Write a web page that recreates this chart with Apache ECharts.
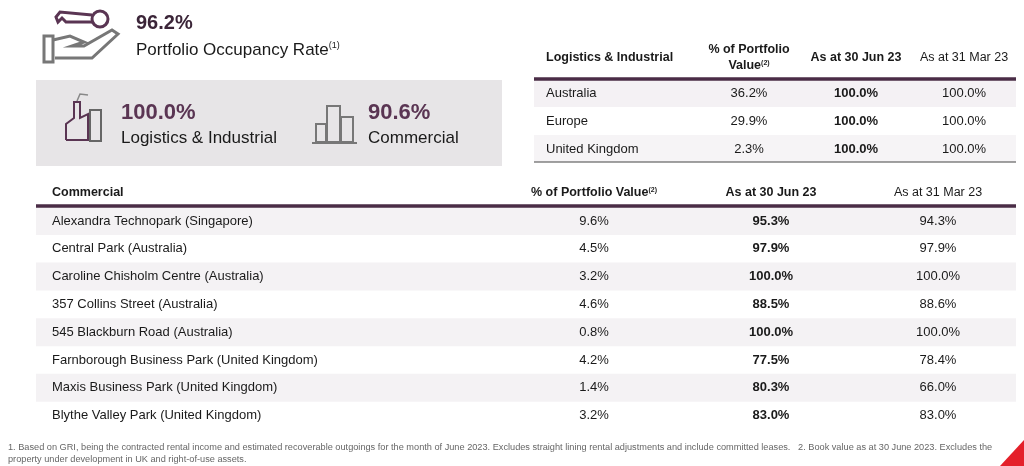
<!DOCTYPE html>
<html>
<head>
<meta charset="utf-8">
<script src="https://cdn.jsdelivr.net/npm/echarts@6/dist/echarts.min.js"></script>
<style>html,body{margin:0;padding:0;background:#fff}#main{width:1024px;height:466px}</style>
</head>
<body>
<div id="main"></div>
<script>
// summary figures
var totalRate = '96.2%';
var liRate = '100.0%';
var comRate = '90.6%';

// logistics & industrial table
var liNames = ['Australia', 'Europe', 'United Kingdom'];
var liPortfolio = ['36.2%', '29.9%', '2.3%'];
var liJun = ['100.0%', '100.0%', '100.0%'];
var liMar = ['100.0%', '100.0%', '100.0%'];

// commercial table
var comNames = ['Alexandra Technopark (Singapore)', 'Central Park (Australia)', 'Caroline Chisholm Centre (Australia)',
    '357 Collins Street (Australia)', '545 Blackburn Road (Australia)', 'Farnborough Business Park (United Kingdom)',
    'Maxis Business Park (United Kingdom)', 'Blythe Valley Park (United Kingdom)'];
var comPortfolio = ['9.6%', '4.5%', '3.2%', '4.6%', '0.8%', '4.2%', '1.4%', '3.2%'];
var comJun = ['95.3%', '97.9%', '100.0%', '88.5%', '100.0%', '77.5%', '80.3%', '83.0%'];
var comMar = ['94.3%', '97.9%', '100.0%', '88.6%', '100.0%', '78.4%', '66.0%', '83.0%'];

var footnote1 = '1. Based on GRI, being the contracted rental income and estimated recoverable outgoings for the month of June 2023. Excludes straight lining rental adjustments and include committed leases.   2. Book value as at 30 June 2023. Excludes the';
var footnote2 = 'property under development in UK and right-of-use assets.';

var purple = '#5a3553', dark = '#1a1a1a', font = 'Liberation Sans, Arial, sans-serif';
var sup = {sup: {fontSize: 9, verticalAlign: 'top', padding: [0, 0, 6, 0], fill: dark, fontFamily: font}};
var supB = {sup: {fontSize: 7, verticalAlign: 'top', fontWeight: 'bold', fontFamily: font}};
var els = [];

function txt(x, y, s, size, opt) {
    opt = opt || {};
    els.push({type: 'text', x: x, y: y, style: {
        text: s, fontSize: size, fontFamily: font, fill: opt.fill || dark,
        fontWeight: opt.bold ? 'bold' : 'normal', align: opt.align || 'left',
        verticalAlign: 'middle', rich: opt.rich
    }});
}
function rect(x, y, w, h, fill) {
    els.push({type: 'rect', shape: {x: x, y: y, width: w, height: h}, style: {fill: fill}});
}
function line(x1, y1, x2, y2, stroke, w) {
    els.push({type: 'line', shape: {x1: x1, y1: y1, x2: x2, y2: y2}, style: {stroke: stroke, lineWidth: w}});
}

// key in hand icon
els.push({type: 'circle', shape: {cx: 100, cy: 19, r: 8}, style: {fill: 'none', stroke: purple, lineWidth: 3}});
els.push({type: 'polyline', shape: {points: [[92, 22], [66, 22], [62, 18], [58, 22], [56, 17], [60, 12], [92, 15]]}, style: {fill: 'none', stroke: purple, lineWidth: 3}});
els.push({type: 'rect', shape: {x: 44, y: 36, width: 9, height: 26}, style: {fill: 'none', stroke: '#777', lineWidth: 3}});
els.push({type: 'polyline', shape: {points: [[53, 40], [70, 36], [84, 42], [72, 46], [84, 46], [112, 30], [118, 34], [92, 58], [55, 58]]},
    style: {fill: 'none', stroke: '#777', lineWidth: 3}});

txt(136, 23, totalRate, 20, {bold: true, fill: '#3b2538'});
txt(136, 50, 'Portfolio Occupancy Rate{sup|(1)}', 17, {rich: sup});

// summary box
rect(36, 80, 466, 86, '#e7e5e7');
// factory icon
els.push({type: 'polyline', shape: {points: [[66, 140], [66, 124], [74, 118], [74, 102], [80, 102], [80, 118], [88, 114], [88, 140], [66, 140]]}, style: {fill: 'none', stroke: purple, lineWidth: 2}});
els.push({type: 'rect', shape: {x: 90, y: 110, width: 11, height: 31}, style: {fill: 'none', stroke: '#666', lineWidth: 2}});
els.push({type: 'polyline', shape: {points: [[77, 101], [80, 94], [88, 95]]}, style: {fill: 'none', stroke: '#888', lineWidth: 1.5}});
txt(121, 113, liRate, 22, {bold: true, fill: purple});
txt(121, 138, 'Logistics & Industrial', 17);
// buildings icon
els.push({type: 'rect', shape: {x: 316, y: 124, width: 10, height: 18}, style: {fill: 'none', stroke: '#777', lineWidth: 2}});
els.push({type: 'rect', shape: {x: 327, y: 106, width: 13, height: 36}, style: {fill: 'none', stroke: '#777', lineWidth: 2}});
els.push({type: 'rect', shape: {x: 341, y: 117, width: 12, height: 25}, style: {fill: 'none', stroke: '#777', lineWidth: 2}});
line(312, 143, 357, 143, '#777', 2);
txt(368, 113, comRate, 22, {bold: true, fill: purple});
txt(368, 138, 'Commercial', 17);

// logistics table
var lx = [546, 749, 856, 964];
rect(534, 80, 482, 27, '#f4f1f4');
rect(534, 135, 482, 27, '#f6f4f6');
txt(lx[0], 58, 'Logistics & Industrial', 12.5, {bold: true});
txt(lx[1], 50, '% of Portfolio', 12.5, {bold: true, align: 'center'});
txt(lx[1], 66, 'Value{sup|(2)}', 12.5, {bold: true, align: 'center', rich: supB});
txt(lx[2], 58, 'As at 30 Jun 23', 12.5, {bold: true, align: 'center'});
txt(lx[3], 58, 'As at 31 Mar 23', 12.5, {align: 'center'});
line(534, 79, 1016, 79, '#4a2c46', 3.5);
line(534, 162, 1016, 162, '#444', 1);
for (var i = 0; i < liNames.length; i++) {
    var y = 93 + i * 28;
    txt(lx[0], y, liNames[i], 13);
    txt(lx[1], y, liPortfolio[i], 13, {align: 'center'});
    txt(lx[2], y, liJun[i], 13, {bold: true, align: 'center'});
    txt(lx[3], y, liMar[i], 13, {align: 'center'});
}

// commercial table
var cx = [52, 594, 771, 938];
for (var j = 0; j < comNames.length; j += 2) rect(36, 207 + j * 27.8, 980, 28, '#f4f2f4');
txt(cx[0], 193, 'Commercial', 12.5, {bold: true});
txt(cx[1], 193, '% of Portfolio Value{sup|(2)}', 12.5, {bold: true, align: 'center', rich: supB});
txt(cx[2], 193, 'As at 30 Jun 23', 12.5, {bold: true, align: 'center'});
txt(cx[3], 193, 'As at 31 Mar 23', 12.5, {align: 'center'});
line(36, 206, 1016, 206, '#4a2c46', 3.5);
for (var k = 0; k < comNames.length; k++) {
    var yy = 221 + k * 27.8;
    txt(cx[0], yy, comNames[k], 13);
    txt(cx[1], yy, comPortfolio[k], 13, {align: 'center'});
    txt(cx[2], yy, comJun[k], 13, {bold: true, align: 'center'});
    txt(cx[3], yy, comMar[k], 13, {align: 'center'});
}

txt(8, 447, footnote1, 9.2, {fill: '#666'});
txt(8, 459, footnote2, 9.2, {fill: '#666'});
els.push({type: 'polygon', shape: {points: [[1024, 440], [1024, 466], [1000, 466]]}, style: {fill: '#e4202a'}});

var myChart = echarts.init(document.getElementById('main'));
myChart.setOption({animation: false, graphic: {elements: els}});
</script>
</body>
</html>
